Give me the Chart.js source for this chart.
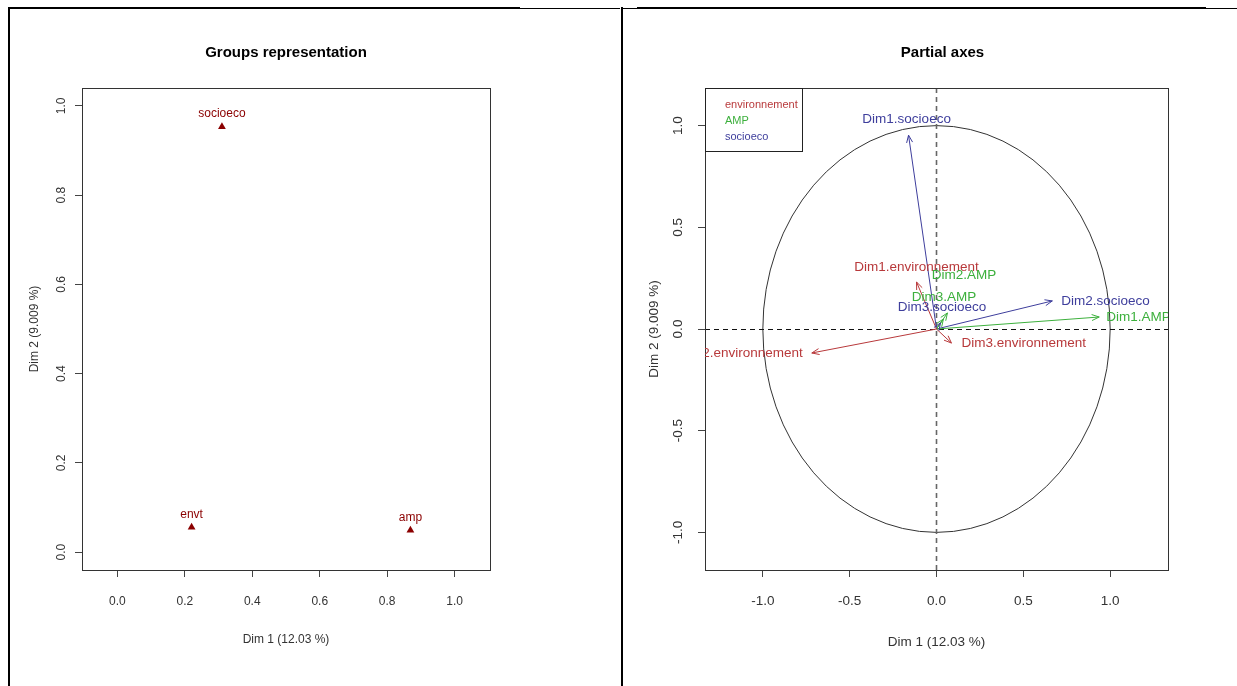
<!DOCTYPE html>
<html><head><meta charset="utf-8">
<script src="https://cdn.jsdelivr.net/npm/chart.js@4.4.0/dist/chart.umd.min.js"></script>
<style>
html,body{margin:0;padding:0;background:#fff;overflow:hidden;width:1237px;height:686px;position:relative;}
.ln{position:absolute;background:#000;}
canvas{position:absolute;top:0;}
#cL{left:0;}
#cR{left:624px;}
</style></head><body>
<canvas id="cL" width="572" height="686"></canvas>
<canvas id="cR" width="613" height="686"></canvas>
<div class="ln" style="left:8px;top:7px;width:512px;height:2px"></div>
<div class="ln" style="left:520px;top:8px;width:100px;height:1px"></div>
<div class="ln" style="left:8px;top:7px;width:2px;height:679px"></div>
<div class="ln" style="left:621px;top:7px;width:2px;height:679px"></div>
<div class="ln" style="left:623px;top:8px;width:14px;height:1px"></div>
<div class="ln" style="left:637px;top:7px;width:569px;height:2px"></div>
<div class="ln" style="left:1206px;top:8px;width:31px;height:1px"></div>
<script>
// ---------- Left panel data: Groups representation ----------
const groupNames = ['socioeco', 'envt', 'amp'];
const groupDim1 = [0.310, 0.220, 0.869];
const groupDim2 = [0.953, 0.056, 0.049];
const leftXTicks = [0.0, 0.2, 0.4, 0.6, 0.8, 1.0];
const leftYTicks = [0.0, 0.2, 0.4, 0.6, 0.8, 1.0];
const leftXRange = [-0.105, 1.105];
const leftYRange = [-0.04, 1.04];
const leftTitle = 'Groups representation';

// ---------- Right panel data: Partial axes ----------
const axisNames = ['Dim1.environnement', 'Dim2.environnement', 'Dim3.environnement',
                   'Dim1.AMP', 'Dim2.AMP', 'Dim3.AMP',
                   'Dim1.socioeco', 'Dim2.socioeco', 'Dim3.socioeco'];
const axisGroup = [0, 0, 0, 1, 1, 1, 2, 2, 2];
const axisDim1 = [-0.115, -0.718, 0.086, 0.937, 0.063, 0.040, -0.161, 0.667, 0.023];
const axisDim2 = [0.231, -0.118, -0.069, 0.059, 0.079, 0.049, 0.953, 0.138, 0.030];
const labelDim1 = [-0.115, -0.770, 0.144, 0.977, 0.158, 0.043, -0.172, 0.718, 0.032];
const labelDim2 = [0.305, -0.118, -0.069, 0.059, 0.265, 0.157, 1.032, 0.138, 0.108];
const labelAlign = ['center', 'right', 'left', 'left', 'center', 'center', 'center', 'left', 'center'];
const groupLabels = ['environnement', 'AMP', 'socioeco'];
const groupColors = ['#B8393B', '#3DB03D', '#3E3E9C'];
const rightXTicks = [-1.0, -0.5, 0.0, 0.5, 1.0];
const rightYTicks = [-1.0, -0.5, 0.0, 0.5, 1.0];
const rightXRange = [-1.333, 1.333];
const rightYRange = [-1.185, 1.185];
const rightTitle = 'Partial axes';

const FONT = '"Liberation Sans", Arial, sans-serif';
Chart.defaults.font.family = FONT;
Chart.defaults.color = '#333';

function tickSetter(arr) { return s => { s.ticks = arr.map(v => ({value: v})); }; }

function drawTitle(ctx, text, cx) {
  ctx.save();
  ctx.fillStyle = '#000';
  ctx.font = 'bold 15px ' + FONT;
  ctx.textAlign = 'center'; ctx.textBaseline = 'middle';
  ctx.fillText(text, cx, 53);
  ctx.restore();
}

// ---------- Left chart ----------
const leftDecor = {
  id: 'leftDecor',
  afterDraw(chart) {
    const {ctx, chartArea: a, scales: {x, y}} = chart;
    drawTitle(ctx, leftTitle, (a.left + a.right) / 2);
    ctx.save();
    ctx.strokeStyle = '#333'; ctx.lineWidth = 1;
    ctx.strokeRect(Math.round(a.left) + 0.5, Math.round(a.top) + 0.5,
                   Math.round(a.right - a.left), Math.round(a.bottom - a.top));
    ctx.fillStyle = '#333';
    ctx.font = '12px ' + FONT;
    ctx.textAlign = 'center'; ctx.textBaseline = 'middle';
    leftYTicks.forEach(v => {
      const py = y.getPixelForValue(v);
      ctx.save(); ctx.translate(62, py); ctx.rotate(-Math.PI / 2);
      ctx.fillText(v.toFixed(1), 0, 0); ctx.restore();
    });
    ctx.fillStyle = '#8B0000';
    ctx.textBaseline = 'alphabetic';
    groupNames.forEach((n, i) => {
      ctx.fillText(n, x.getPixelForValue(groupDim1[i]), y.getPixelForValue(groupDim2[i]) - 9.5);
    });
    ctx.restore();
  }
};

new Chart(document.getElementById('cL'), {
  type: 'scatter',
  data: {
    datasets: [{
      label: 'groups',
      data: groupNames.map((n, i) => ({x: groupDim1[i], y: groupDim2[i]})),
      pointStyle: 'triangle', pointRadius: 4.5,
      backgroundColor: '#8B0000', borderColor: '#8B0000', borderWidth: 0
    }]
  },
  options: {
    responsive: false, animation: false, events: [],
    layout: {padding: {top: 88, left: 0, right: 82, bottom: 0}},
    plugins: {legend: {display: false}, tooltip: {enabled: false}, title: {display: false}},
    scales: {
      x: {
        type: 'linear', min: leftXRange[0], max: leftXRange[1],
        afterBuildTicks: tickSetter(leftXTicks),
        afterFit: s => { s.height = 116; },
        grid: {drawOnChartArea: false, drawTicks: true, tickLength: 7, color: '#444'},
        border: {display: false},
        ticks: {padding: 17, font: {size: 12}, color: '#333', callback: v => Number(v).toFixed(1)},
        title: {display: true, text: 'Dim 1 (12.03 %)', font: {size: 12}, color: '#333', padding: {top: 0, bottom: 38.8}}
      },
      y: {
        type: 'linear', min: leftYRange[0], max: leftYRange[1],
        afterBuildTicks: tickSetter(leftYTicks),
        afterFit: s => { s.width = 82; },
        grid: {drawOnChartArea: false, drawTicks: true, tickLength: 7, color: '#444'},
        border: {display: false},
        ticks: {display: false},
        title: {display: true, text: 'Dim 2 (9.009 %)', font: {size: 12}, color: '#333', padding: {top: 27.8, bottom: 0}}
      }
    }
  },
  plugins: [leftDecor]
});

// ---------- Right chart ----------
const rightDecor = {
  id: 'rightDecor',
  beforeDatasetsDraw(chart) {
    const {ctx, chartArea: a, scales: {x, y}} = chart;
    const cx = x.getPixelForValue(0), cy = y.getPixelForValue(0);
    ctx.save();
    ctx.strokeStyle = '#333'; ctx.lineWidth = 1;
    ctx.beginPath();
    ctx.ellipse(cx, cy, x.getPixelForValue(1) - cx, cy - y.getPixelForValue(1), 0, 0, Math.PI * 2);
    ctx.stroke();
    ctx.setLineDash([5, 4]);
    ctx.strokeStyle = '#111'; ctx.lineWidth = 1;
    ctx.beginPath(); ctx.moveTo(a.left, Math.round(cy) + 0.5); ctx.lineTo(a.right, Math.round(cy) + 0.5); ctx.stroke();
    ctx.strokeStyle = '#666'; ctx.lineWidth = 1.6;
    ctx.beginPath(); ctx.moveTo(cx, a.top); ctx.lineTo(cx, a.bottom); ctx.stroke();
    ctx.restore();
  },
  afterDatasetsDraw(chart) {
    const {ctx, scales: {x, y}} = chart;
    const ox = x.getPixelForValue(0), oy = y.getPixelForValue(0);
    ctx.save();
    ctx.lineWidth = 1;
    axisNames.forEach((n, i) => {
      const tx = x.getPixelForValue(axisDim1[i]), ty = y.getPixelForValue(axisDim2[i]);
      const ang = Math.atan2(ty - oy, tx - ox);
      const L = 8, th = 22 * Math.PI / 180;
      ctx.strokeStyle = groupColors[axisGroup[i]];
      ctx.beginPath();
      ctx.moveTo(tx - L * Math.cos(ang - th), ty - L * Math.sin(ang - th));
      ctx.lineTo(tx, ty);
      ctx.lineTo(tx - L * Math.cos(ang + th), ty - L * Math.sin(ang + th));
      ctx.stroke();
    });
    ctx.restore();
  },
  afterDraw(chart) {
    const {ctx, chartArea: a, scales: {x, y}} = chart;
    drawTitle(ctx, rightTitle, (a.left + a.right) / 2 + 6);
    ctx.save();
    ctx.strokeStyle = '#333'; ctx.lineWidth = 1;
    ctx.strokeRect(Math.round(a.left) + 0.5, Math.round(a.top) + 0.5,
                   Math.round(a.right - a.left), Math.round(a.bottom - a.top));
    ctx.fillStyle = '#333';
    ctx.font = '13.5px ' + FONT;
    ctx.textAlign = 'center'; ctx.textBaseline = 'middle';
    rightYTicks.forEach(v => {
      const py = y.getPixelForValue(v);
      ctx.save(); ctx.translate(54, py); ctx.rotate(-Math.PI / 2);
      ctx.fillText(v.toFixed(1), 0, 0); ctx.restore();
    });
    ctx.save();
    ctx.beginPath(); ctx.rect(a.left, a.top, a.right - a.left, a.bottom - a.top); ctx.clip();
    ctx.font = '13.5px ' + FONT;
    ctx.textBaseline = 'middle';
    axisNames.forEach((n, i) => {
      ctx.fillStyle = groupColors[axisGroup[i]];
      ctx.textAlign = labelAlign[i];
      ctx.fillText(n, x.getPixelForValue(labelDim1[i]), y.getPixelForValue(labelDim2[i]));
    });
    ctx.restore();
    const bx = Math.round(a.left) + 0.5, by = Math.round(a.top) + 0.5;
    ctx.strokeStyle = '#222'; ctx.lineWidth = 1;
    ctx.strokeRect(bx, by, 97, 63);
    ctx.font = '11px ' + FONT;
    ctx.textAlign = 'left'; ctx.textBaseline = 'middle';
    groupLabels.forEach((g, i) => {
      ctx.fillStyle = groupColors[i];
      ctx.fillText(g, a.left + 20, a.top + 17 + i * 16);
    });
    ctx.restore();
  }
};

new Chart(document.getElementById('cR'), {
  type: 'line',
  data: {
    datasets: axisNames.map((n, i) => ({
      label: n,
      data: [{x: 0, y: 0}, {x: axisDim1[i], y: axisDim2[i]}],
      borderColor: groupColors[axisGroup[i]], borderWidth: 1,
      pointRadius: 0, fill: false, tension: 0
    }))
  },
  options: {
    responsive: false, animation: false, events: [],
    layout: {padding: {top: 88, left: 0, right: 69, bottom: 0}},
    plugins: {legend: {display: false}, tooltip: {enabled: false}, title: {display: false}},
    scales: {
      x: {
        type: 'linear', min: rightXRange[0], max: rightXRange[1],
        afterBuildTicks: tickSetter(rightXTicks),
        afterFit: s => { s.height = 116; },
        grid: {drawOnChartArea: false, drawTicks: true, tickLength: 7, color: '#444'},
        border: {display: false},
        ticks: {padding: 16, font: {size: 13.5}, color: '#333', callback: v => Number(v).toFixed(1)},
        title: {display: true, text: 'Dim 1 (12.03 %)', font: {size: 13.5}, color: '#333', padding: {top: 0, bottom: 35.9}}
      },
      y: {
        type: 'linear', min: rightYRange[0], max: rightYRange[1],
        afterBuildTicks: tickSetter(rightYTicks),
        afterFit: s => { s.width = 81; },
        grid: {drawOnChartArea: false, drawTicks: true, tickLength: 7, color: '#444'},
        border: {display: false},
        ticks: {display: false},
        title: {display: true, text: 'Dim 2 (9.009 %)', font: {size: 13.5}, color: '#333', padding: {top: 21.9, bottom: 0}}
      }
    }
  },
  plugins: [rightDecor]
});
</script>
</body></html>
